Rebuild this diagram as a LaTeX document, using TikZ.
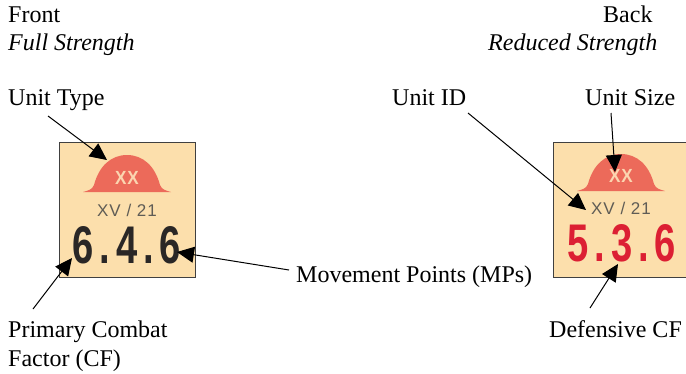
\documentclass[tikz,border=0pt]{standalone}
\usepackage{fontspec}
\setmainfont{Liberation Serif}
\newfontfamily\cfont[FakeStretch=0.72,LetterSpace=11]{Liberation Sans}
\newfontfamily\xxfont[FakeStretch=0.9,LetterSpace=4]{Liberation Sans}
\newfontfamily\idfont[LetterSpace=6]{Liberation Sans}
\usetikzlibrary{positioning,arrows.meta}
\definecolor{counterbg}{HTML}{FCDFAC}
\definecolor{hatred}{HTML}{EC6A5A}
\definecolor{hattext}{HTML}{FBD5B0}
\definecolor{cfblack}{HTML}{2A2726}
\definecolor{cfred}{HTML}{DC1F33}
\definecolor{idgray}{HTML}{5F5C55}
\tikzset{
    lbl/.style={anchor=base west, inner sep=0pt, font=\fontsize{24}{28}\selectfont},
    lblit/.style={lbl, font=\fontsize{24}{28}\selectfont\itshape},
    callout/.style={-{Triangle[length=17pt,width=16pt]}, black, line width=1pt},
    counter/.style={draw=black!75, fill=counterbg, line width=0.8pt},
    hat/.style={fill=hatred},
    xxtext/.style={font=\xxfont\bfseries\fontsize{19}{19}\selectfont, text=hattext, inner sep=0pt},
    idtext/.style={font=\idfont\fontsize{17}{17}\selectfont, text=idgray, inner sep=0pt},
    cftext/.style={font=\cfont\bfseries\fontsize{53}{53}\selectfont, inner sep=0pt},
}
\begin{document}
\begin{tikzpicture}[x=1pt,y=-1pt]
    \useasboundingbox (0,0) rectangle (686,373);

    % Counters
    \clip (0,0) rectangle (686,373);
    \draw[counter] (59,142) rectangle (195,277);
    \draw[counter] (553,142) rectangle (700,277);

    % Hats
    \foreach \x/\y in {83/192, 577/191} {
        \fill[hat] (\x,\y) .. controls (\x+5,\y-1.5) and (\x+9,\y-2) .. (\x+11,\y-7)
            .. controls (\x+16,\y-26) and (\x+28,\y-37) .. (\x+44,\y-37)
            .. controls (\x+60,\y-37) and (\x+72,\y-26) .. (\x+77,\y-7)
            .. controls (\x+79,\y-2) and (\x+83,\y-1.5) .. (\x+88,\y) -- cycle;
    }

    % Counter texts
    \node[xxtext] (xxfront) at (127,178) {XX};
    \node[xxtext] (xxback) at (621,176) {XX};
    \node[idtext] (idfront) at (127,210) {XV / 21};
    \node[idtext] (idback) at (621,208) {XV / 21};
    \node[cftext, text=cfblack] (cffront) at (127,245) {6.4.6};
    \node[cftext, text=cfred] (cfback) at (622,243) {5.3.6};

    % Labels
    \node[lbl] (front) at (8,22) {Front};
    \node[lblit] (full) at (8,50) {Full Strength};
    \node[lbl] (back) at (603,22) {Back};
    \node[lblit] (reduced) at (488,50) {Reduced Strength};
    \node[lbl] (unittype) at (8,105) {Unit Type};
    \node[lbl] (unitid) at (392,105) {Unit ID};
    \node[lbl] (unitsize) at (585,105) {Unit Size};
    \node[lbl] (mps) at (296,282) {Movement Points (MPs)};
    \node[lbl] (primary) at (8,337) {Primary Combat};
    \node[lbl] (factor) at (8,366) {Factor (CF)};
    \node[lbl] (defensive) at (549,337) {Defensive CF};

    % Arrow ends
    \foreach \name/\x/\y in {a/48/116, b/107/160, c/289/270, d/177/252, e/33/309, f/72/258,
        g/468/113, h/586/210, i/611/113, j/615/172, k/590/308, l/618/264} {
        \coordinate (\name) at (\x,\y);
    }

    % Arrows
    \foreach \from/\to in {a/b, c/d, e/f, g/h, i/j, k/l} {
        \draw[callout] (\from) -- (\to);
    }
\end{tikzpicture}
\end{document}
